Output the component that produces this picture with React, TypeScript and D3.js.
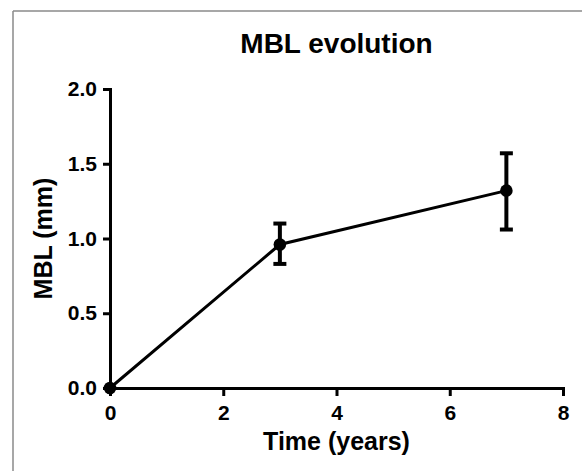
import { useEffect, useRef } from 'react'
import * as d3 from 'd3'

const WIDTH = 582
const HEIGHT = 471
const MARGIN = { top: 89, right: 19, bottom: 83, left: 110 }

const years = [0, 3, 7]
const mbl = [0, 0.96, 1.32]
const errLow = [0, 0.83, 1.06]
const errHigh = [0, 1.1, 1.57]
const xTicks = [0, 2, 4, 6, 8]
const yTicks = [0, 0.5, 1.0, 1.5, 2.0]

const FONT = 'Arial, "Liberation Sans", Helvetica, sans-serif'

export default function App() {
  const axesRef = useRef<SVGGElement>(null)
  const boundsWidth = WIDTH - MARGIN.left - MARGIN.right
  const boundsHeight = HEIGHT - MARGIN.top - MARGIN.bottom

  const xScale = d3.scaleLinear().domain([0, 8]).range([0, boundsWidth])
  const yScale = d3.scaleLinear().domain([0, 2]).range([boundsHeight, 0])

  useEffect(() => {
    const g = d3.select(axesRef.current)
    g.selectAll('*').remove()

    const xAxis = d3
      .axisBottom(xScale)
      .tickValues(xTicks)
      .tickSizeOuter(0)
      .tickSize(8)
      .tickPadding(9)
      .tickFormat(d3.format('d'))
    const yAxis = d3
      .axisLeft(yScale)
      .tickValues(yTicks)
      .tickSizeOuter(0)
      .tickSize(7)
      .tickPadding(6)
      .tickFormat(d3.format('.1f'))

    g.append('g').attr('transform', `translate(0,${boundsHeight})`).call(xAxis)
    g.append('g').call(yAxis)

    g.selectAll('path.domain').style('stroke', '#000').style('stroke-width', 3)
    g.selectAll('.tick line').style('stroke', '#000').style('stroke-width', 3)
    g.selectAll('.tick text')
      .style('fill', '#000')
      .style('font-family', FONT)
      .style('font-weight', 'bold')
      .style('font-size', '21px')
  }, [])

  const line = d3
    .line<number>()
    .x((_, i) => xScale(years[i]))
    .y((d) => yScale(d))

  return (
    <svg
      width={WIDTH}
      height={HEIGHT}
      style={{ position: 'absolute', left: 0, top: 0 }}
    >
      <rect width="100%" height="100%" fill="white" />
      <line x1={13} y1={11} x2={WIDTH} y2={11} stroke="#8a8a8a" strokeWidth={1.5} />
      <line x1={13} y1={11} x2={13} y2={HEIGHT} stroke="#8a8a8a" strokeWidth={1.5} />
      <text
        x={MARGIN.left + boundsWidth / 2}
        y={53}
        textAnchor="middle"
        style={{ fontFamily: FONT, fontWeight: 'bold', fontSize: '28px' }}
      >
        MBL evolution
      </text>
      <text
        x={MARGIN.left + boundsWidth / 2}
        y={450}
        textAnchor="middle"
        style={{ fontFamily: FONT, fontWeight: 'bold', fontSize: '25px' }}
      >
        Time (years)
      </text>
      <text
        transform={`translate(52,${MARGIN.top + boundsHeight / 2}) rotate(-90)`}
        textAnchor="middle"
        style={{ fontFamily: FONT, fontWeight: 'bold', fontSize: '25px' }}
      >
        MBL (mm)
      </text>
      <g transform={`translate(${MARGIN.left},${MARGIN.top})`}>
        <g ref={axesRef} />
        <path d={line(mbl) ?? ''} fill="none" stroke="#000" strokeWidth={3} />
        {years.map((yr, i) =>
          errHigh[i] > errLow[i] ? (
            <g key={'e' + i} stroke="#000" strokeWidth={4}>
              <line x1={xScale(yr)} x2={xScale(yr)} y1={yScale(errLow[i])} y2={yScale(errHigh[i])} />
              <line x1={xScale(yr) - 6.5} x2={xScale(yr) + 6.5} y1={yScale(errLow[i])} y2={yScale(errLow[i])} />
              <line x1={xScale(yr) - 6.5} x2={xScale(yr) + 6.5} y1={yScale(errHigh[i])} y2={yScale(errHigh[i])} />
            </g>
          ) : null
        )}
        {years.map((yr, i) => (
          <circle key={i} cx={xScale(yr)} cy={yScale(mbl[i])} r={6.3} fill="#000" />
        ))}
      </g>
    </svg>
  )
}
